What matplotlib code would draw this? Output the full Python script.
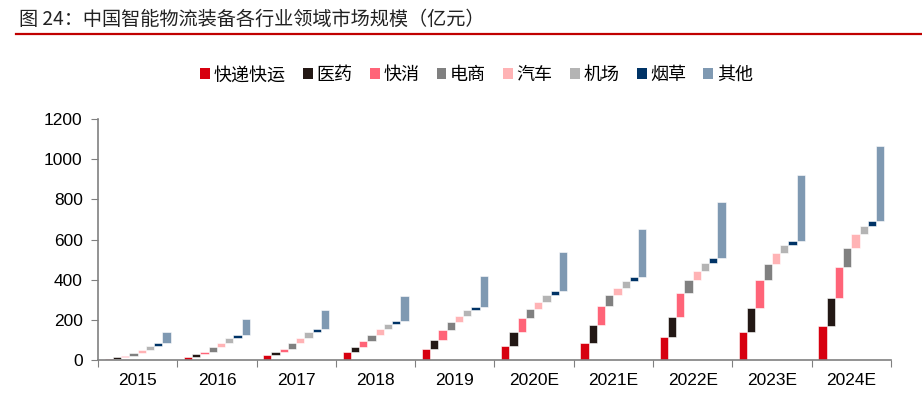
import numpy as np
import matplotlib
matplotlib.use('Agg')
import matplotlib.pyplot as plt
from matplotlib.patches import Patch
from matplotlib.lines import Line2D

plt.rcParams['font.family'] = ['Noto Sans CJK SC', 'DejaVu Sans']

# data (亿元)
years = ['2015', '2016', '2017', '2018', '2019', '2020E', '2021E', '2022E', '2023E', '2024E']
series = ['快递快运', '医药', '快消', '电商', '汽车', '机场', '烟草', '其他']
kuaidi = [7, 17, 23, 42, 55, 70, 86, 113, 141, 170]
yiyao = [6, 13, 17, 25, 46, 70, 88, 101, 119, 137]
kuaixiao = [8, 12, 17, 30, 46, 69, 95, 120, 138, 158]
dianshang = [12, 25, 30, 26, 40, 46, 53, 66, 79, 91]
qiche = [15, 16, 23, 29, 30, 35, 35, 45, 58, 70]
jichang = [22, 27, 28, 29, 30, 34, 36, 40, 39, 42]
yancao = [15, 14, 14, 15, 16, 18, 19, 21, 20, 24]
qita = [56, 80, 95, 121, 157, 196, 239, 282, 329, 374]
colors = ['#D7000F', '#231815', '#FF6478', '#808080', '#FFB3B5', '#B4B4B4', '#003366', '#7F99B2']

values = np.array([kuaidi, yiyao, kuaixiao, dianshang, qiche, jichang, yancao, qita])

fig = plt.figure(figsize=(9.22, 3.96), dpi=100)
ax = fig.add_axes([0.1063, 0.0909, 0.86, 0.6086])

x = np.arange(len(years))
w = 0.104
bottom = np.zeros(len(years))
for j in range(len(series)):
    ax.bar(x + (j - 3.5) * w, values[j], width=w, bottom=bottom,
           color=colors[j], edgecolor='white', linewidth=0.4)
    bottom = bottom + values[j]

ax.set_ylim(0, 1200)
ax.set_yticks(range(0, 1201, 200))
ax.set_xlim(-0.5, len(years) - 0.5)
ax.set_xticks(np.arange(len(years) + 1) - 0.5)
ax.set_xticklabels([])
ax.set_xticks(x, minor=True)
ax.set_xticklabels(years, minor=True, fontfamily='Liberation Sans', fontsize=12.5)
ax.tick_params(axis='x', which='minor', length=0, pad=9)
ax.tick_params(axis='x', which='major', length=5, color='#808080', direction='out')
ax.tick_params(axis='y', length=5, color='#808080', direction='out', pad=6)
for lab in ax.get_yticklabels():
    lab.set_fontfamily('Liberation Sans')
    lab.set_fontsize(12.5)

for s in ['top', 'right']:
    ax.spines[s].set_visible(False)
for s in ['left', 'bottom']:
    ax.spines[s].set_color('#808080')
    ax.spines[s].set_linewidth(1.2)

handles = [Patch(facecolor=c, edgecolor='none') for c in colors]
fig.legend(handles, series, loc='center', bbox_to_anchor=(0.517, 0.81), ncol=8,
           frameon=False, fontsize=13, handlelength=0.55, handleheight=0.55,
           handletextpad=0.2, columnspacing=0.95)

fig.text(0.021, 1 - 19 / 396, '图 24：中国智能物流装备各行业领域市场规模（亿元）',
         fontsize=13.8, va='center', ha='left', color='#222222')
fig.add_artist(Line2D([16 / 922, 1.0], [1 - 33.5 / 396, 1 - 33.5 / 396],
                      transform=fig.transFigure, color='#C00000', linewidth=1.6))

fig.savefig('out.png', dpi=100)
